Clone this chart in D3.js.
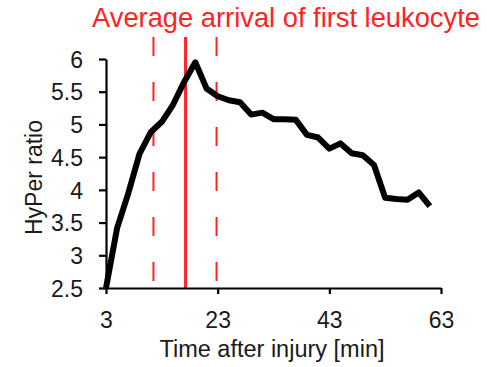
<!DOCTYPE html>
<html>
<head>
<meta charset="utf-8">
<script src="https://cdn.jsdelivr.net/npm/d3@7"></script>
<style>
  html, body { margin: 0; padding: 0; background: #fff; }
  svg { display: block; font-family: "Liberation Sans", Arial, Helvetica, sans-serif; }
</style>
</head>
<body>
<svg id="chart" width="487" height="367"></svg>
<script>
// HyPer ratio over time after injury
const timeMin = [3, 5, 7, 9, 11, 13, 15, 17, 19, 21, 23, 25, 27, 29, 31,
                 33, 35, 37, 39, 41, 43, 45, 47, 49, 51, 53, 55, 57, 59, 61];
const hyperRatio = [2.50, 3.42, 3.95, 4.55, 4.88, 5.04, 5.30, 5.65, 5.95, 5.55,
                    5.43, 5.37, 5.34, 5.15, 5.18, 5.08, 5.08, 5.07, 4.84, 4.80,
                    4.63, 4.71, 4.56, 4.53, 4.38, 3.88, 3.86, 3.85, 3.96, 3.75];

// Leukocyte arrival: mean (solid) and spread (dashed)
const arrivalMean = [17.25];
const arrivalSpread = [11.5, 22.8];

const xTicks = [3, 23, 43, 63];
const yTicks = [2.5, 3, 3.5, 4, 4.5, 5, 5.5, 6];
const xDomain = [3, 63];
const yDomain = [2.5, 6];

const titleText = "Average arrival of first leukocyte";
const xLabel = "Time after injury [min]";
const yLabel = "HyPer ratio";

const red = "#ff2222";
const svg = d3.select("#chart");

const plot = { left: 106, right: 441, top: 59, bottom: 288 };
const x = d3.scaleLinear().domain(xDomain).range([plot.left, plot.right]);
const y = d3.scaleLinear().domain(yDomain).range([plot.bottom, plot.top]);

// Marker lines for arrival time
const markTop = 37;
svg.append("g").selectAll("line.spread")
  .data(arrivalSpread).join("line")
  .attr("x1", d => x(d)).attr("x2", d => x(d))
  .attr("y1", markTop).attr("y2", plot.bottom)
  .attr("stroke", red).attr("stroke-width", 2)
  .attr("stroke-dasharray", "19,26");

svg.append("g").selectAll("line.mean")
  .data(arrivalMean).join("line")
  .attr("x1", d => x(d)).attr("x2", d => x(d))
  .attr("y1", markTop).attr("y2", plot.bottom)
  .attr("stroke", red).attr("stroke-width", 3);

// Axes
const xAxis = svg.append("g")
  .attr("transform", `translate(0,${plot.bottom})`)
  .call(d3.axisBottom(x).tickValues(xTicks).tickFormat(d3.format("d"))
        .tickSizeOuter(0).tickSizeInner(6).tickPadding(18));
const yAxis = svg.append("g")
  .attr("transform", `translate(${plot.left},0)`)
  .call(d3.axisLeft(y).tickValues(yTicks).tickFormat(d => String(d))
        .tickSizeOuter(0).tickSizeInner(7).tickPadding(16));

[xAxis, yAxis].forEach(g => {
  g.select(".domain").attr("stroke", "#000").attr("stroke-width", 2.2);
  g.selectAll(".tick line").attr("stroke", "#000").attr("stroke-width", 2.2);
  g.selectAll(".tick text").attr("fill", "#1a1a1a")
    .style("font-size", "23px").style("font-family", null);
});
yAxis.selectAll(".tick text").attr("dy", "0.36em");
xAxis.selectAll(".tick text").attr("dy", "0.71em");

// Data line
const line = d3.line().x((d, i) => x(timeMin[i])).y(d => y(d));
svg.append("path")
  .datum(hyperRatio)
  .attr("d", line)
  .attr("fill", "none")
  .attr("stroke", "#000")
  .attr("stroke-width", 6)
  .attr("stroke-linejoin", "round")
  .attr("stroke-linecap", "butt");

// Title and axis labels
svg.append("text")
  .attr("x", 286).attr("y", 27)
  .attr("text-anchor", "middle")
  .attr("fill", red)
  .style("font-size", "27.3px")
  .text(titleText);

svg.append("text")
  .attr("x", 272).attr("y", 357)
  .attr("text-anchor", "middle")
  .attr("fill", "#1a1a1a")
  .style("font-size", "23.5px")
  .text(xLabel);

svg.append("text")
  .attr("transform", `translate(42,${(plot.top + plot.bottom) / 2 + 4}) rotate(-90)`)
  .attr("text-anchor", "middle")
  .attr("fill", "#1a1a1a")
  .style("font-size", "23px")
  .text(yLabel);
</script>
</body>
</html>
